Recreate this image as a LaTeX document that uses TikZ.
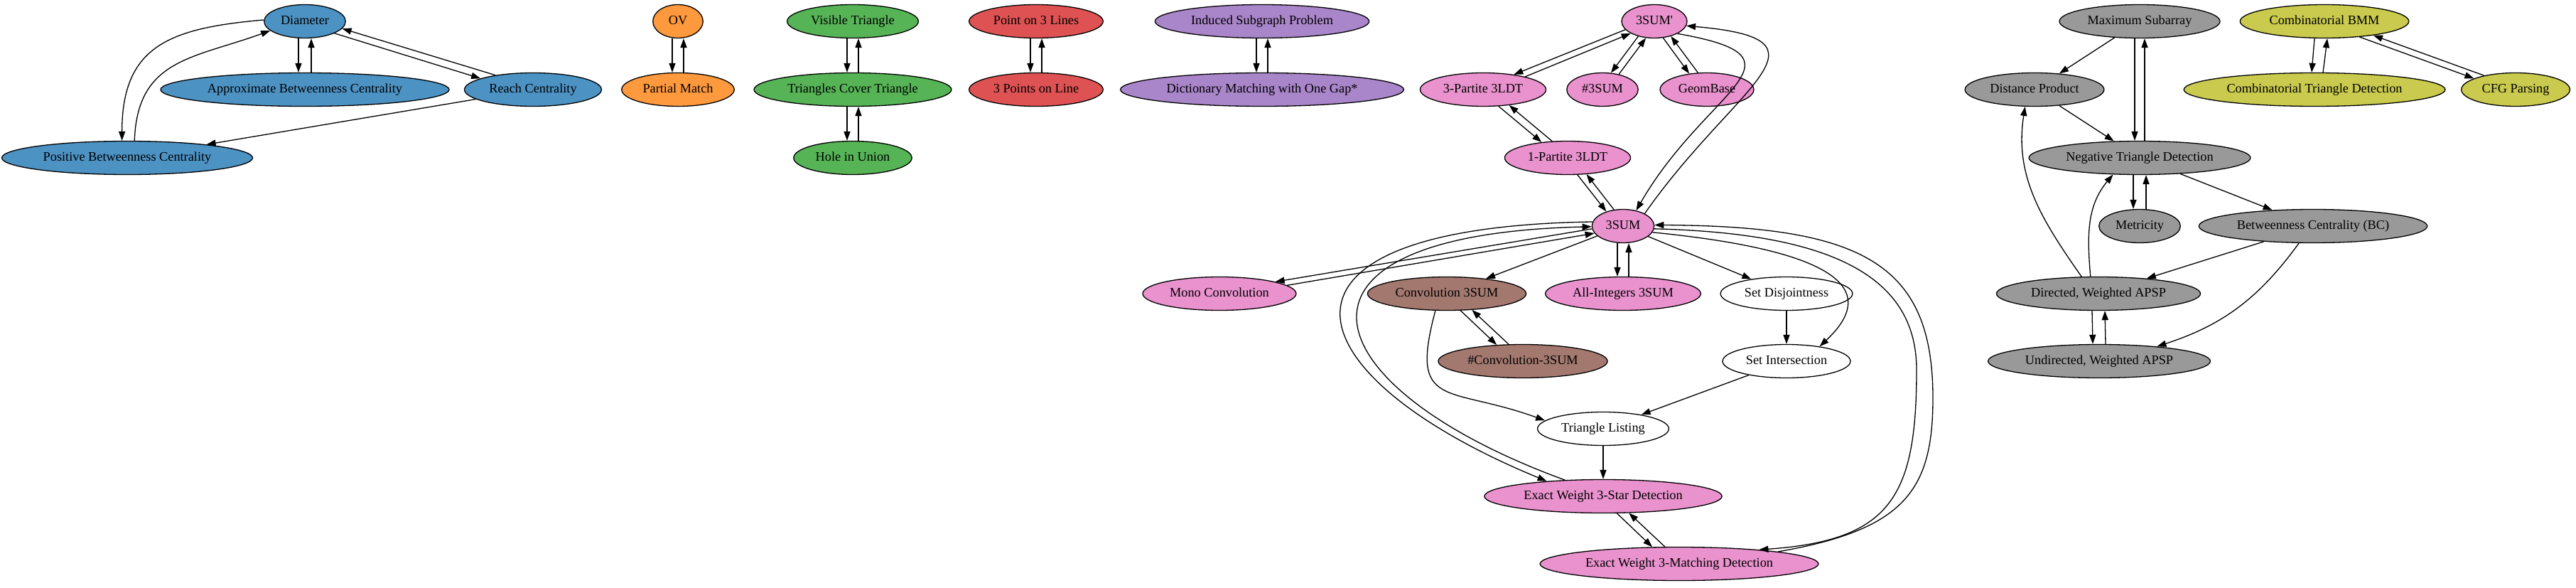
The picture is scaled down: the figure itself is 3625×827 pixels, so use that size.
\documentclass[tikz,border=0pt]{standalone}
\usepackage{fontspec}
\setmainfont{Liberation Serif}
\usetikzlibrary{arrows.meta,shapes.geometric}

\definecolor{gvblue}{HTML}{4C92C3}
\definecolor{gvorange}{HTML}{FF993E}
\definecolor{gvgreen}{HTML}{56B356}
\definecolor{gvred}{HTML}{DE5253}
\definecolor{gvpurple}{HTML}{A985CA}
\definecolor{gvbrown}{HTML}{A3786F}
\definecolor{gvpink}{HTML}{E992CE}
\definecolor{gvgray}{HTML}{999999}
\definecolor{gvolive}{HTML}{C9CA4E}

\newlength{\gvpx}
\setlength{\gvpx}{0.766pt}

\begin{document}
\begin{tikzpicture}[x=\gvpx, y=\gvpx,
    prob/.style={ellipse, draw, line width=1pt, inner xsep=5pt, inner ysep=2pt,
        minimum width=54pt, minimum height=36pt, text height=10pt, text depth=3pt,
        font=\fontsize{14}{16}\selectfont},
    link/.style={-{Triangle[length=10pt,width=7pt]}, line width=1pt}]
    \useasboundingbox (0,0) rectangle (3625,-827);

    % nodes
    \node[prob, fill=gvblue] (diam) at (429,-30) {Diameter};
    \node[prob, fill=gvblue] (abc) at (429,-126) {Approximate Betweenness Centrality};
    \node[prob, fill=gvblue] (reach) at (750,-126) {Reach Centrality};
    \node[prob, fill=gvblue] (pbc) at (179,-222) {Positive Betweenness Centrality};

    \node[prob, fill=gvorange] (ov) at (954,-30) {OV};
    \node[prob, fill=gvorange] (pm) at (954,-126) {Partial Match};

    \node[prob, fill=gvgreen] (vt) at (1200,-30) {Visible Triangle};
    \node[prob, fill=gvgreen] (tct) at (1200,-126) {Triangles Cover Triangle};
    \node[prob, fill=gvgreen] (hiu) at (1200,-222) {Hole in Union};

    \node[prob, fill=gvred] (p3l) at (1458,-30) {Point on 3 Lines};
    \node[prob, fill=gvred] (p3o) at (1458,-126) {3 Points on Line};

    \node[prob, fill=gvpurple] (isp) at (1776,-30) {Induced Subgraph Problem};
    \node[prob, fill=gvpurple] (dmg) at (1776,-126) {Dictionary Matching with One Gap*};

    \node[prob, fill=gvpink] (s3p) at (2328,-30) {3SUM\textquotesingle};
    \node[prob, fill=gvpink] (p3ldt) at (2087,-126) {3-Partite 3LDT};
    \node[prob, fill=gvpink] (hs3) at (2255,-126) {\#3SUM};
    \node[prob, fill=gvpink] (geom) at (2402,-126) {GeomBase};
    \node[prob, fill=gvpink] (o3ldt) at (2206,-222) {1-Partite 3LDT};
    \node[prob, fill=gvpink] (s3) at (2284,-318) {3SUM};
    \node[prob, fill=gvpink] (mono) at (1716,-413) {Mono Convolution};
    \node[prob, fill=gvbrown] (conv) at (2036,-413) {Convolution 3SUM};
    \node[prob, fill=gvpink] (allint) at (2284,-413) {All-Integers 3SUM};
    \node[prob, fill=white] (sdis) at (2514,-413) {Set Disjointness};
    \node[prob, fill=gvbrown] (hconv) at (2143,-508) {\#Convolution-3SUM};
    \node[prob, fill=white] (sint) at (2514,-508) {Set Intersection};
    \node[prob, fill=white] (tl) at (2256,-603) {Triangle Listing};
    \node[prob, fill=gvpink] (star) at (2256,-698) {Exact Weight 3-Star Detection};
    \node[prob, fill=gvpink] (match) at (2363,-793) {Exact Weight 3-Matching Detection};

    \node[prob, fill=gvgray] (maxsub) at (3011,-30) {Maximum Subarray};
    \node[prob, fill=gvgray] (dp) at (2863,-126) {Distance Product};
    \node[prob, fill=gvgray] (ntd) at (3011,-222) {Negative Triangle Detection};
    \node[prob, fill=gvgray] (metr) at (3011,-318) {Metricity};
    \node[prob, fill=gvgray] (bc) at (3255,-318) {Betweenness Centrality (BC)};
    \node[prob, fill=gvgray] (dapsp) at (2953,-413) {Directed, Weighted APSP};
    \node[prob, fill=gvgray] (uapsp) at (2954,-508) {Undirected, Weighted APSP};

    \node[prob, fill=gvolive] (cbmm) at (3271,-30) {Combinatorial BMM};
    \node[prob, fill=gvolive] (ctd) at (3257,-126) {Combinatorial Triangle Detection};
    \node[prob, fill=gvolive] (cfg) at (3540,-126) {CFG Parsing};

    % blue group
    \draw[link] ([xshift=-9\gvpx]diam.south) -- ([xshift=-9\gvpx]abc.north);
    \draw[link] ([xshift=9\gvpx]abc.north) -- ([xshift=9\gvpx]diam.south);
    \draw[link] (diam.-22) -- (reach.168);
    \draw[link] (reach.159) -- (diam.-11);
    \draw[link] (diam.178) to[out=185, in=90, looseness=1.3] (pbc.107);
    \draw[link] (pbc.67) to[out=88, in=200, looseness=1.2] (diam.195);
    \draw[link] (reach) -- (pbc);

    % small groups
    \draw[link] ([xshift=-8\gvpx]ov.south) -- ([xshift=-8\gvpx]pm.north);
    \draw[link] ([xshift=8\gvpx]pm.north) -- ([xshift=8\gvpx]ov.south);
    \draw[link] ([xshift=-8\gvpx]vt.south) -- ([xshift=-8\gvpx]tct.north);
    \draw[link] ([xshift=8\gvpx]tct.north) -- ([xshift=8\gvpx]vt.south);
    \draw[link] ([xshift=-8\gvpx]tct.south) -- ([xshift=-8\gvpx]hiu.north);
    \draw[link] ([xshift=8\gvpx]hiu.north) -- ([xshift=8\gvpx]tct.south);
    \draw[link] ([xshift=-8\gvpx]p3l.south) -- ([xshift=-8\gvpx]p3o.north);
    \draw[link] ([xshift=8\gvpx]p3o.north) -- ([xshift=8\gvpx]p3l.south);
    \draw[link] ([xshift=-8\gvpx]isp.south) -- ([xshift=-8\gvpx]dmg.north);
    \draw[link] ([xshift=8\gvpx]dmg.north) -- ([xshift=8\gvpx]isp.south);

    % 3SUM group
    \draw[link] (s3p.196) -- (p3ldt.26);
    \draw[link] (p3ldt.17) -- (s3p.207);
    \draw[link] (s3p.223) -- (hs3.63);
    \draw[link] (hs3.43) -- (s3p.243);
    \draw[link] (s3p.298) -- (geom.138);
    \draw[link] (geom.118) -- (s3p.318);
    \draw[link] (p3ldt.313) -- (o3ldt.149);
    \draw[link] (o3ldt.133) -- (p3ldt.329);
    \draw[link] (o3ldt.300) -- (s3.139);
    \draw[link] (s3.119) -- (o3ldt.319);
    \draw[link] (s3p.-28) to[out=-10, in=60, looseness=2] (s3.50);
    \draw[link] (s3.30) to[out=55, in=-5, looseness=2.1] (s3p.-8);
    \draw[link] (s3.185) -- (mono.12);
    \draw[link] (mono.7) -- (s3.194);
    \draw[link] (s3.172) .. controls (1740,-320) and (1820,-530) .. (star.165);
    \draw[link] (star.157) .. controls (1845,-545) and (1770,-330) .. (s3.181);
    \draw[link] (s3) -- (conv);
    \draw[link] ([xshift=-8\gvpx]s3.south) -- ([xshift=-8\gvpx]allint.north);
    \draw[link] ([xshift=8\gvpx]allint.north) -- ([xshift=8\gvpx]s3.south);
    \draw[link] (s3) -- (sdis);
    \draw[link] (s3.-12) .. controls (2510,-345) and (2670,-385) .. (sint.24);
    \draw[link] (s3.-5) .. controls (2580,-328) and (2697,-390) .. (2697,-520)
        .. controls (2697,-700) and (2660,-760) .. (match.10);
    \draw[link] (match.7) .. controls (2680,-745) and (2720,-690) .. (2720,-560)
        .. controls (2720,-370) and (2620,-318) .. (s3.2);
    \draw[link] (conv.309) -- (hconv.148);
    \draw[link] (hconv.130) -- (conv.327);
    \draw[link] (conv.236) to[out=255, in=160, looseness=1.7] (tl.172);
    \draw[link] (sdis) -- (sint);
    \draw[link] (sint) -- (tl);
    \draw[link] (tl) -- (star);
    \draw[link] (star.309) -- (match.148);
    \draw[link] (match.130) -- (star.327);

    % APSP group
    \draw[link] (maxsub) -- (dp);
    \draw[link] ([xshift=-7\gvpx]maxsub.south) -- ([xshift=-7\gvpx]ntd.north);
    \draw[link] ([xshift=7\gvpx]ntd.north) -- ([xshift=7\gvpx]maxsub.south);
    \draw[link] (dp) -- (ntd);
    \draw[link] ([xshift=-9\gvpx]ntd.south) -- ([xshift=-9\gvpx]metr.north);
    \draw[link] ([xshift=9\gvpx]metr.north) -- ([xshift=9\gvpx]ntd.south);
    \draw[link] (ntd) -- (bc);
    \draw[link] (bc) -- (dapsp);
    \draw[link] (bc) to[bend left=18] (uapsp);
    \draw[link] (dapsp.135) to[out=125, in=-99] (dp.241);
    \draw[link] (dapsp.115) to[out=95, in=230] (ntd.212);
    \draw[link] ([xshift=-9\gvpx]dapsp.south) -- ([xshift=-9\gvpx]uapsp.north);
    \draw[link] ([xshift=9\gvpx]uapsp.north) -- ([xshift=9\gvpx]dapsp.south);

    % BMM group
    \draw[link] ([xshift=-14\gvpx]cbmm.south) -- ([xshift=-4\gvpx]ctd.north);
    \draw[link] ([xshift=12\gvpx]ctd.north) -- ([xshift=4\gvpx]cbmm.south);
    \draw[link] (cbmm.-24) -- (cfg.165);
    \draw[link] (cfg.156) -- (cbmm.-16);
\end{tikzpicture}
\end{document}
